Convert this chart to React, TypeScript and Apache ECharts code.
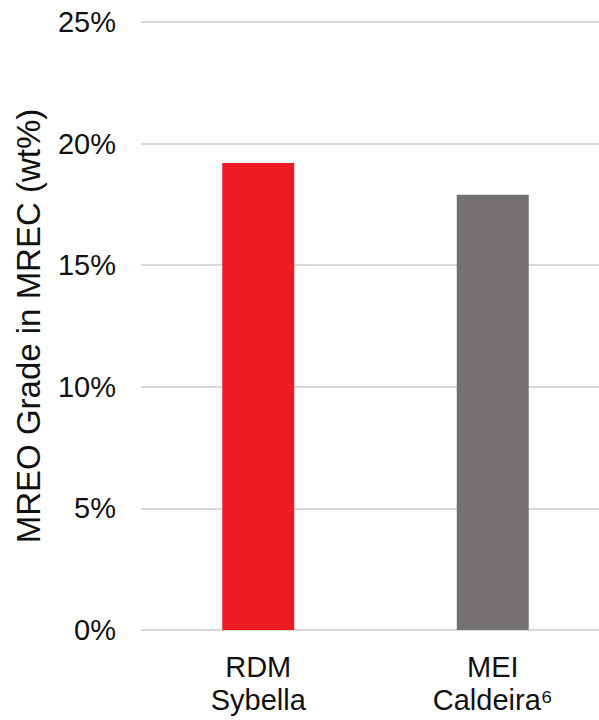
import React, { useEffect, useRef } from "react";
import * as echarts from "echarts";

const categories = ["RDM\nSybella", "MEI\nCaldeira⁶"];
const values = [19.2, 17.9];
const barColors = ["#ED1C24", "#767171"];
const yTicks = [0, 5, 10, 15, 20, 25];

export default function App() {
  const ref = useRef<HTMLDivElement>(null);
  useEffect(() => {
    document.body.style.margin = "0";
    document.body.style.overflow = "hidden";
    if (!ref.current) return;
    const chart = echarts.init(ref.current, undefined, { renderer: "svg" });
    chart.setOption({
      animation: false,
      backgroundColor: "#ffffff",
      grid: { left: 141, right: 0, top: 22, bottom: 90, containLabel: false },
      xAxis: {
        type: "category",
        data: categories,
        axisLine: { show: false },
        axisTick: { show: false },
        axisLabel: {
          color: "#111",
          fontFamily: "Liberation Sans, Arial, sans-serif",
          fontSize: 29,
          lineHeight: 33,
          margin: 20,
        },
      },
      yAxis: {
        type: "value",
        min: yTicks[0],
        max: yTicks[yTicks.length - 1],
        interval: 5,
        name: "MREO Grade in MREC (wt%)",
        nameLocation: "middle",
        nameGap: 96,
        nameTextStyle: {
          color: "#111",
          fontFamily: "Liberation Sans, Arial, sans-serif",
          fontSize: 33,
        },
        axisLine: { show: false },
        axisTick: { show: false },
        axisLabel: {
          color: "#111",
          fontFamily: "Liberation Sans, Arial, sans-serif",
          fontSize: 29,
          margin: 25,
          formatter: (v: number) => `${v}%`,
        },
        splitLine: { lineStyle: { color: "#d9d9d9", width: 2 } },
      },
      series: [
        {
          type: "bar",
          barWidth: 72,
          data: values.map((v, i) => ({ value: v, itemStyle: { color: barColors[i] } })),
        },
      ],
    });
    return () => chart.dispose();
  }, []);
  return <div ref={ref} style={{ width: 610, height: 720 }} />;
}
